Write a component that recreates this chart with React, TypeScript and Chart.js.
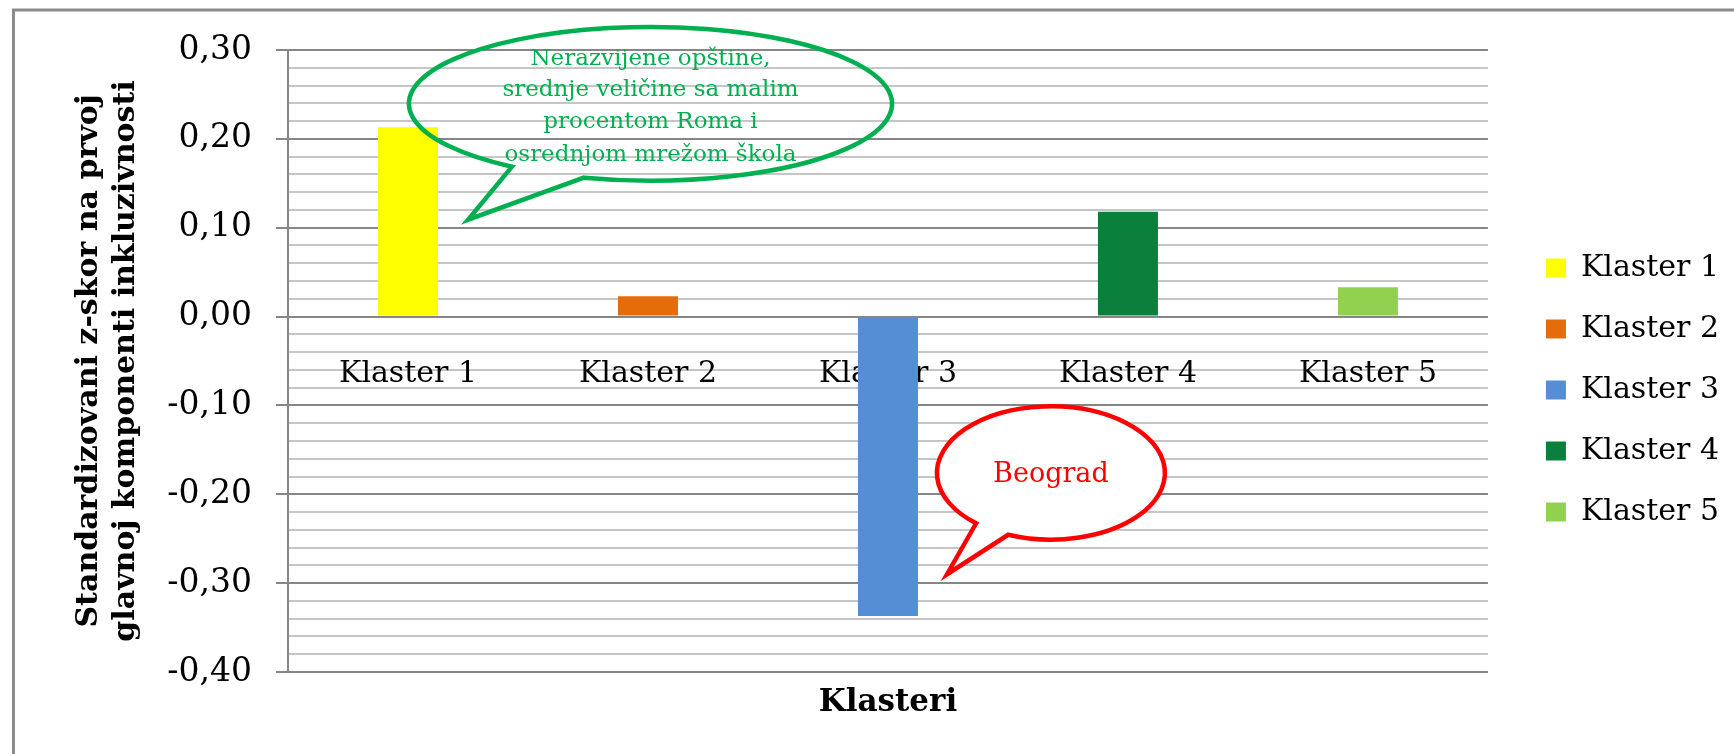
import React, { useEffect, useRef } from 'react';
import { Chart, registerables } from 'chart.js';

Chart.register(...registerables);

const FONT = "'DejaVu Serif', 'Liberation Serif', serif";

const categories = ['Klaster 1', 'Klaster 2', 'Klaster 3', 'Klaster 4', 'Klaster 5'];
const seriesNames = ['Klaster 1', 'Klaster 2', 'Klaster 3', 'Klaster 4', 'Klaster 5'];
const values = [0.213, 0.023, -0.337, 0.118, 0.033];
const colors = ['#ffff00', '#e46c0a', '#558ed5', '#0b803c', '#92d050'];

const yMin = -0.4;
const yMax = 0.3;
const yStep = 0.02;

const yTitleLines = ['Standardizovani z-skor na prvoj', 'glavnoj komponenti inkluzivnosti'];
const xTitle = 'Klasteri';

const greenNoteLines = ['Nerazvijene opštine,', 'srednje veličine sa malim', 'procentom Roma i', 'osrednjom mrežom škola'];
const greenNoteLineValues = [0.29, 0.255, 0.219, 0.182];
const redNoteText = 'Beograd';

// bubble geometry in scale units (category index, value)
const greenBubble = { left: 0.004, right: 2.017, top: 0.326, bottom: 0.153, tipX: 0.25, tipY: 0.109, a1: 125, a2: 106 };
const redBubble = { left: 2.204, right: 3.154, top: -0.101, bottom: -0.251, tipX: 2.246, tipY: -0.29, a1: 131, a2: 112 };

const isMajor = (v: number) => Math.round(v * 100) % 10 === 0;

const framePlugin = {
  id: 'frame',
  beforeDraw(chart: any) {
    const ctx = chart.ctx;
    ctx.save();
    ctx.fillStyle = '#ffffff';
    ctx.fillRect(0, 0, chart.width, chart.height);
    ctx.strokeStyle = '#8c8c8c';
    ctx.lineWidth = 3;
    ctx.beginPath();
    ctx.moveTo(13.5, chart.height);
    ctx.lineTo(13.5, 10);
    ctx.lineTo(chart.width, 10);
    ctx.stroke();
    ctx.restore();
  },
};

function drawBubble(chart: any, b: any, stroke: string, fill: string | null) {
  const ctx = chart.ctx;
  const xs = chart.scales.x;
  const ys = chart.scales.y;
  const l = xs.getPixelForValue(b.left);
  const r = xs.getPixelForValue(b.right);
  const t = ys.getPixelForValue(b.top);
  const bo = ys.getPixelForValue(b.bottom);
  const cx = (l + r) / 2;
  const cy = (t + bo) / 2;
  const rx = (r - l) / 2;
  const ry = (bo - t) / 2;
  const a1 = (b.a1 * Math.PI) / 180;
  const a2 = (b.a2 * Math.PI) / 180;
  ctx.save();
  ctx.beginPath();
  ctx.ellipse(cx, cy, rx, ry, 0, a1, a2 + Math.PI * 2, false);
  ctx.lineTo(xs.getPixelForValue(b.tipX), ys.getPixelForValue(b.tipY));
  ctx.closePath();
  if (fill) {
    ctx.fillStyle = fill;
    ctx.fill();
  }
  ctx.strokeStyle = stroke;
  ctx.lineWidth = 4.5;
  ctx.lineJoin = 'miter';
  ctx.stroke();
  ctx.restore();
  return { cx, cy };
}

const notesPlugin = {
  id: 'notes',
  afterDatasetsDraw(chart: any) {
    const ctx = chart.ctx;
    const ys = chart.scales.y;
    const g = drawBubble(chart, greenBubble, '#00b050', null);
    ctx.save();
    ctx.fillStyle = '#00b050';
    ctx.font = `23px ${FONT}`;
    ctx.textAlign = 'center';
    ctx.textBaseline = 'middle';
    greenNoteLines.forEach((line, i) => {
      ctx.fillText(line, g.cx, ys.getPixelForValue(greenNoteLineValues[i]));
    });
    ctx.restore();

    const rb = drawBubble(chart, redBubble, '#ff0000', '#ffffff');
    ctx.save();
    ctx.fillStyle = '#ff0000';
    ctx.font = `27px ${FONT}`;
    ctx.textAlign = 'center';
    ctx.textBaseline = 'middle';
    ctx.fillText(redNoteText, rb.cx, rb.cy + 2);
    ctx.restore();
  },
  afterDraw(chart: any) {
    const ctx = chart.ctx;
    const a = chart.chartArea;
    ctx.save();
    ctx.fillStyle = '#000000';
    ctx.font = `bold 31px ${FONT}`;
    ctx.textAlign = 'center';
    ctx.textBaseline = 'middle';
    ctx.fillText(xTitle, (a.left + a.right) / 2, a.bottom + 31);
    ctx.restore();
  },
};

export default function App() {
  const ref = useRef<HTMLCanvasElement>(null);

  useEffect(() => {
    document.body.style.margin = '0';
    const canvas = ref.current;
    if (!canvas) return;
    Chart.defaults.font.family = FONT;

    const chart = new Chart(canvas, {
      type: 'bar',
      data: {
        labels: categories,
        datasets: seriesNames.map((name, i) => ({
          label: name,
          data: categories.map((_, j) => (j === i ? values[i] : null)),
          backgroundColor: colors[i],
          borderColor: colors[i],
          borderWidth: 0,
          barPercentage: 0.25,
          categoryPercentage: 1,
          xAxisID: 'x',
          yAxisID: 'y',
        })),
      },
      options: {
        responsive: false,
        animation: false,
        layout: { padding: { left: 0, right: 5, top: 50, bottom: 82 } },
        plugins: {
          tooltip: { enabled: false },
          legend: {
            position: 'right',
            align: 'center',
            title: { display: true, text: ' ', font: { size: 10 }, padding: { top: 46, bottom: 0 } },
            labels: {
              boxWidth: 20,
              boxHeight: 19,
              padding: 31,
              color: '#000000',
              font: { size: 30, family: FONT },
            },
          },
        },
        scales: {
          x: {
            type: 'category',
            stacked: true,
            position: { y: 0 },
            z: 1,
            grid: { display: false, drawTicks: false },
            border: { display: false },
            ticks: {
              color: '#000000',
              font: { size: 30, family: FONT },
              padding: 40,
              maxRotation: 0,
              autoSkip: false,
            },
          },
          y: {
            type: 'linear',
            stacked: true,
            min: yMin,
            max: yMax,
            ticks: {
              stepSize: yStep,
              autoSkip: false,
              padding: 24,
              color: '#000000',
              font: { size: 33, family: FONT },
              callback: (v: any) => {
                const k = Math.round(Number(v) * 100);
                if (k % 10 !== 0) return '';
                return (k / 100).toFixed(2).replace('.', ',');
              },
            },
            grid: {
              lineWidth: 2,
              tickLength: 12,
              color: (c: any) => (c.tick && isMajor(c.tick.value) ? '#868686' : '#c6c6c6'),
              tickColor: (c: any) => (c.tick && isMajor(c.tick.value) ? '#868686' : 'rgba(0,0,0,0)'),
            },
            border: { display: true, color: '#868686', width: 2 },
            title: {
              display: true,
              text: yTitleLines,
              color: '#000000',
              font: { size: 30, weight: 'bold', family: FONT, lineHeight: 1.25 },
              padding: { top: 70, bottom: 0 },
            },
            afterFit: (s: any) => {
              s.width = 288;
            },
          },
          yr: {
            type: 'linear',
            position: 'right',
            display: true,
            grid: { display: false, drawTicks: false },
            border: { display: false },
            ticks: { display: false },
            afterFit: (s: any) => {
              s.width = 27;
            },
          },
        },
      } as any,
      plugins: [framePlugin, notesPlugin],
    });

    return () => chart.destroy();
  }, []);

  return (
    <div style={{ width: 1734, height: 754 }}>
      <canvas ref={ref} width={1734} height={754} style={{ display: 'block', width: 1734, height: 754 }} />
    </div>
  );
}
